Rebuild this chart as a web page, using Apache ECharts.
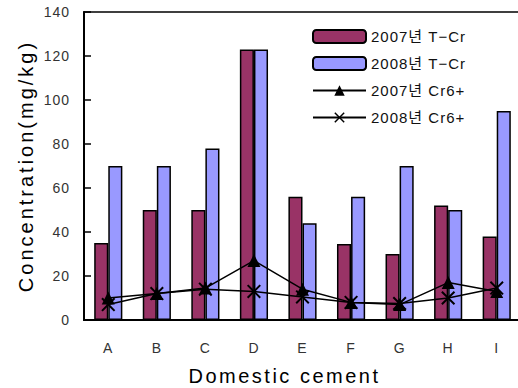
<!DOCTYPE html>
<html>
<head>
<meta charset="utf-8">
<script src="https://cdn.jsdelivr.net/npm/echarts@6/dist/echarts.min.js"></script>
<style>
  html, body { margin: 0; padding: 0; background: #fff; }
  #chart { width: 518px; height: 388px; }
  #chart svg text { letter-spacing: 1px; }
</style>
</head>
<body>
<div id="chart"></div>
<script>
// data
var categories = ['A', 'B', 'C', 'D', 'E', 'F', 'G', 'H', 'I'];
var tcr2007 = [35, 50, 50, 123, 56, 34.5, 30, 52, 38];
var tcr2008 = [70, 70, 78, 123, 44, 56, 70, 50, 95];
var cr2007 = [10, 12, 14.5, 27, 14, 8, 7, 17, 13];
var cr2008 = [7, 12, 14, 13, 10.5, 8, 7.5, 10, 14.5];
var yTicks = [0, 20, 40, 60, 80, 100, 120, 140];

var crossPath = 'path://M0,1L1,0L5,4L9,0L10,1L6,5L10,9L9,10L5,6L1,10L0,9L4,5Z';
var fontFam = '"Liberation Sans", Arial, "Noto Sans CJK KR", sans-serif';

var chart = echarts.init(document.getElementById('chart'), null, {renderer: 'svg'});

// spread the axis names like the original
chart.on('finished', function () {
    var texts = document.querySelectorAll('#chart svg text');
    texts.forEach(function (t) {
        if (t.textContent === 'Domestic cement') {
            t.style.letterSpacing = '2.5px';
        } else if (t.textContent === 'Concentration(mg/kg)') {
            t.style.letterSpacing = '3px';
        }
    });
});

var option = {
    animation: false,
    textStyle: {fontFamily: fontFam},
    grid: {
        left: 84,
        top: 12,
        width: 437,
        height: 308,
        show: true,
        borderColor: '#000',
        borderWidth: 1.5,
        outerBoundsMode: 'none'
    },
    legend: {
        left: 307,
        top: 24,
        orient: 'vertical',
        itemWidth: 53,
        itemHeight: 13,
        itemGap: 12,
        textStyle: {fontSize: 15, color: '#111', fontFamily: fontFam, lineHeight: 14},
        data: ['2007년 T−Cr', '2008년 T−Cr', '2007년 Cr6+', '2008년 Cr6+']
    },
    xAxis: {
        type: 'category',
        data: categories,
        name: 'Domestic cement',
        nameLocation: 'middle',
        nameGap: 46,
        nameTextStyle: {fontSize: 20, color: '#000', padding: [0, 36, 0, 0]},
        axisLine: {lineStyle: {color: '#000', width: 2}},
        axisTick: {inside: true, length: 6, lineStyle: {color: '#000', width: 1.5}},
        axisLabel: {margin: 21, fontSize: 14, color: '#333'}
    },
    yAxis: {
        type: 'value',
        min: 0,
        max: 140,
        interval: 20,
        name: 'Concentration(mg/kg)',
        nameLocation: 'middle',
        nameGap: 47,
        nameTextStyle: {fontSize: 20, color: '#000'},
        splitLine: {show: false},
        axisLine: {show: true, lineStyle: {color: '#000', width: 2}},
        axisTick: {show: true, inside: true, length: 7, lineStyle: {color: '#000', width: 1.5}},
        axisLabel: {
            margin: 14, fontSize: 14, color: '#333',
            formatter: function (v) { return yTicks.indexOf(v) >= 0 ? String(v) : ''; }
        }
    },
    series: [{
        name: '2007년 T−Cr',
        type: 'bar',
        data: tcr2007,
        barGap: 0,
        barCategoryGap: '42%',
        itemStyle: {color: '#993366', borderColor: '#000', borderWidth: 1.5}
    }, {
        name: '2008년 T−Cr',
        type: 'bar',
        data: tcr2008,
        barGap: 0,
        barCategoryGap: '42%',
        itemStyle: {color: '#9999FF', borderColor: '#000', borderWidth: 1.5}
    }, {
        name: '2007년 Cr6+',
        type: 'line',
        data: cr2007,
        z: 5,
        symbol: 'triangle',
        symbolSize: 13,
        lineStyle: {color: '#000', width: 1.5},
        itemStyle: {color: '#000'}
    }, {
        name: '2008년 Cr6+',
        type: 'line',
        data: cr2008,
        z: 6,
        symbol: crossPath,
        symbolSize: 14,
        lineStyle: {color: '#000', width: 1.5},
        itemStyle: {color: '#000'}
    }]
};

chart.setOption(option);
</script>
</body>
</html>
